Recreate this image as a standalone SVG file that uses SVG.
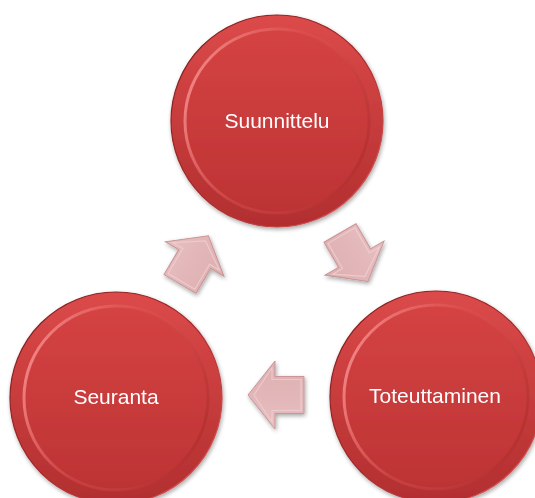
<svg xmlns="http://www.w3.org/2000/svg" width="535" height="498" viewBox="0 0 535 498">
<defs>
<linearGradient id="gOuter" x1="0" y1="0" x2="0" y2="1">
<stop offset="0" stop-color="#dc4a4a"/>
<stop offset="1" stop-color="#b22e2f"/>
</linearGradient>
<linearGradient id="gInner" x1="0" y1="0" x2="0" y2="1">
<stop offset="0" stop-color="#d54343"/>
<stop offset="1" stop-color="#bd3334"/>
</linearGradient>
<linearGradient id="gHi" x1="0" y1="0.3" x2="1" y2="0.7">
<stop offset="0" stop-color="#f58a8a" stop-opacity="0.95"/>
<stop offset="0.45" stop-color="#e66060" stop-opacity="0.3"/>
<stop offset="1" stop-color="#a82828" stop-opacity="0.5"/>
</linearGradient>
<linearGradient id="gRim" x1="0" y1="0" x2="1" y2="1">
<stop offset="0" stop-color="#7a1c1c"/>
<stop offset="0.5" stop-color="#a52a2a"/>
<stop offset="1" stop-color="#e06060"/>
</linearGradient>
<linearGradient id="gArrow" x1="0" y1="0" x2="0" y2="1">
<stop offset="0" stop-color="#e8bfc1"/>
<stop offset="1" stop-color="#ddaeb0"/>
</linearGradient>
<filter id="sh" x="-10%" y="-10%" width="130%" height="130%">
<feGaussianBlur in="SourceAlpha" stdDeviation="2"/>
<feOffset dx="1" dy="2"/>
<feComponentTransfer><feFuncA type="linear" slope="0.35"/></feComponentTransfer>
<feMerge><feMergeNode/><feMergeNode in="SourceGraphic"/></feMerge>
</filter>
<g id="disc">
<circle r="106" fill="url(#gOuter)" stroke="url(#gRim)" stroke-width="1.2"/>
<circle r="92" fill="url(#gInner)" stroke="url(#gHi)" stroke-width="3"/>
</g>
<polygon id="arr" points="0,-18.5 29,-18.5 29,-34 56,0 29,34 29,18.5 0,18.5"/>
</defs>
<style>
.lbl{font-family:"Liberation Sans",Arial,sans-serif;font-size:21px;fill:#ffffff;text-anchor:middle}
.arrow{fill:url(#gArrow);stroke:#c99597;stroke-width:1}
.arrowIn{fill:none;stroke:#f0d0d2;stroke-width:1.2;opacity:0.8}
</style>
<rect width="535" height="498" fill="#ffffff"/>
<g id="connectors">
<g filter="url(#sh)">
<g transform="translate(180,284) rotate(-59.5)"><use href="#arr" class="arrow"/><polygon class="arrowIn" points="3,-15.5 32,-15.5 32,-27 50,0 32,27 32,15.5 3,15.5"/></g>
<g transform="translate(340,233) rotate(60)"><use href="#arr" class="arrow"/><polygon class="arrowIn" points="3,-15.5 32,-15.5 32,-27 50,0 32,27 32,15.5 3,15.5"/></g>
<g transform="translate(304,395) rotate(180)"><use href="#arr" class="arrow"/><polygon class="arrowIn" points="3,-15.5 32,-15.5 32,-27 50,0 32,27 32,15.5 3,15.5"/></g>
</g>
</g>
<g id="suunnittelu" filter="url(#sh)">
<use href="#disc" x="277" y="121"/>
<text class="lbl" x="277" y="128">Suunnittelu</text>
</g>
<g id="toteuttaminen" filter="url(#sh)">
<use href="#disc" x="436" y="397"/>
<text class="lbl" x="435" y="403">Toteuttaminen</text>
</g>
<g id="seuranta" filter="url(#sh)">
<use href="#disc" x="116" y="398"/>
<text class="lbl" x="116" y="404">Seuranta</text>
</g>
</svg>
